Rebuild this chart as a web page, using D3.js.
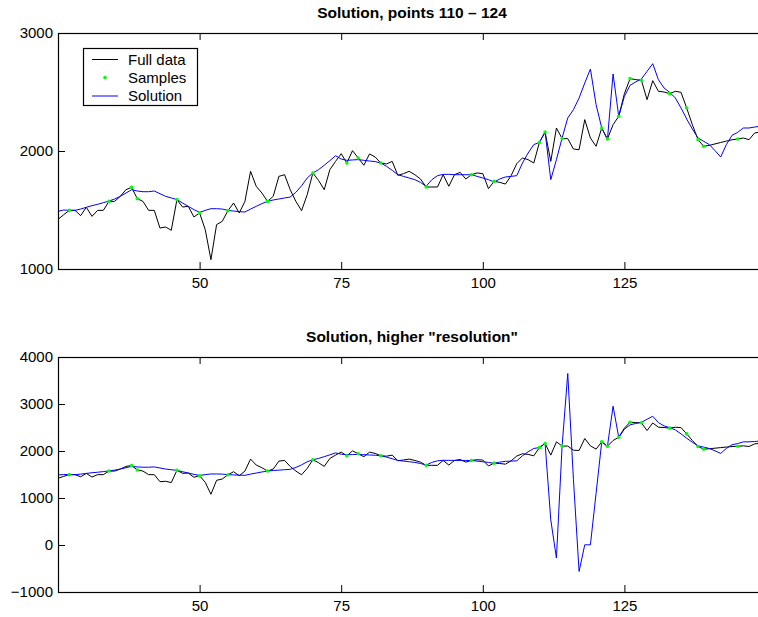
<!DOCTYPE html>
<html>
<head>
<meta charset="utf-8">
<script src="https://cdn.jsdelivr.net/npm/d3@7"></script>
<style>
  html, body { margin: 0; padding: 0; background: #fff; }
  svg { display: block; }
  text { font-family: "Liberation Sans", Arial, Helvetica, sans-serif; fill: #000; }
</style>
</head>
<body>
<svg id="chart" width="758" height="617"></svg>
<script>
// Signal index of the first value in each series
const firstIndex = 25;

// Full measured signal, one value per index 25..150
const fullData = [
  1420, 1460, 1497, 1497, 1452, 1523, 1446, 1497, 1497, 1573,
  1573, 1616, 1672, 1692, 1596, 1573, 1497, 1497, 1347, 1356,
  1328, 1588, 1525, 1531, 1441, 1475, 1333, 1079, 1376, 1404,
  1494, 1559, 1475, 1573, 1828, 1701, 1644, 1573, 1616, 1785,
  1799, 1672, 1573, 1494, 1630, 1814, 1751, 1672, 1842, 1912,
  1977, 1898, 2003, 1941, 1879, 1975, 1949, 1898, 1890, 1912,
  1794, 1808, 1828, 1799, 1763, 1695, 1695, 1695, 1799, 1701,
  1799, 1819, 1763, 1799, 1814, 1808, 1681, 1743, 1734, 1720,
  1791, 1893, 1941, 1927, 1898, 2073, 2161, 1912, 2195, 2105,
  2105, 2017, 2011, 2266, 2110, 2040, 2195, 2102, 2223, 2294,
  2486, 2613, 2605, 2599, 2435, 2596, 2506, 2500, 2486, 2506,
  2497, 2364, 2223, 2096, 2040, 2048, 2060, 2072, 2084, 2095,
  2102, 2110, 2096, 2153, 2160, 2170
];

// Indices at which the signal was sampled
const sampleIndex = [
  27, 34, 38, 39, 46, 50, 55, 62, 70, 76, 78, 82, 90, 98,
  102, 110, 111, 114, 121, 122, 124, 126, 128, 133, 136, 138, 139, 145
];

// Reconstructed solution, one value per index 25..150
const solution = [
  1489, 1500, 1497, 1497, 1508, 1523, 1537, 1548, 1562, 1576,
  1593, 1616, 1644, 1672, 1661, 1655, 1655, 1661, 1638, 1616,
  1602, 1588, 1559, 1531, 1503, 1480, 1497, 1511, 1511, 1508,
  1497, 1491, 1486, 1483, 1508, 1531, 1554, 1573, 1585, 1593,
  1602, 1610, 1650, 1705, 1771, 1814, 1842, 1879, 1918, 1960,
  1932, 1921, 1924, 1927, 1921, 1915, 1910, 1898, 1870, 1836,
  1799, 1785, 1771, 1757, 1734, 1701, 1757, 1791, 1802, 1802,
  1799, 1799, 1799, 1799, 1785, 1771, 1757, 1737, 1763, 1780,
  1785, 1791, 1898, 1983, 2054, 2073, 2161, 1757, 1927, 2110,
  2280, 2350, 2449, 2576, 2695, 2393, 2195, 2096, 2653, 2294,
  2463, 2557, 2585, 2610, 2675, 2740, 2605, 2534, 2497, 2449,
  2364, 2271, 2186, 2110, 2082, 2054, 2003, 1949, 2054, 2133,
  2158, 2195, 2195, 2203, 2210, 2215
];

// Higher-resolution solution differs from the one above on indices 112..124
const hiResIndex  = [112, 113, 114, 115, 116, 117, 118, 119, 120, 121, 122, 123, 124];
const hiResValues = [535, -278, 2105, 3648, 1400, -562, 4, 4, 1100, 2197, 2096, 2954, 2290];

// Axis settings
const xDomain = [25, 150];
const xTicks = [50, 75, 100, 125];
const topYDomain = [1000, 3000];
const topYTicks = [1000, 2000, 3000];
const bottomYDomain = [-1000, 4000];
const bottomYTicks = [-1000, 0, 1000, 2000, 3000, 4000];

const titles = ["Solution, points 110 \u2013 124", "Solution, higher \"resolution\""];
const legendLabels = ["Full data", "Samples", "Solution"];

// ---------------------------------------------------------------
const toPoints = vals => vals.map((v, i) => ({ x: firstIndex + i, y: v }));
const fullPts = toPoints(fullData);
const samplePts = sampleIndex.map(k => ({ x: k, y: fullData[k - firstIndex] }));
const solutionPts = toPoints(solution);
const hiResPts = solutionPts.map(p => {
  const j = hiResIndex.indexOf(p.x);
  return j >= 0 ? { x: p.x, y: hiResValues[j] } : p;
});

const svg = d3.select("#chart");
const FONT = 15;
const left = 58, right = 766;
const x = d3.scaleLinear().domain(xDomain).range([left, right]);

function panel(id, top, bottom, yDomain, yTicks, title, series) {
  const y = d3.scaleLinear().domain(yDomain).range([bottom, top]);
  const g = svg.append("g");

  g.append("clipPath").attr("id", id)
    .append("rect").attr("x", left).attr("y", top)
    .attr("width", right - left).attr("height", bottom - top);

  const plot = g.append("g").attr("clip-path", `url(#${id})`);
  const line = d3.line().x(d => x(d.x)).y(d => y(d.y));

  plot.append("path").datum(series.full)
    .attr("d", line).attr("fill", "none")
    .attr("stroke", "#000").attr("stroke-width", 1);
  plot.append("path").datum(series.solution)
    .attr("d", line).attr("fill", "none")
    .attr("stroke", "#0000ff").attr("stroke-width", 1);
  plot.selectAll("circle").data(series.samples).join("circle")
    .attr("cx", d => x(d.x)).attr("cy", d => y(d.y))
    .attr("r", 1.8).attr("fill", "#00ff00");

  // Axes with inward ticks
  const yAxis = d3.axisLeft(y).tickValues(yTicks).tickSize(-7).tickPadding(5)
    .tickFormat(d => d < 0 ? "\u2212" + Math.abs(d) : String(d));
  const ya = g.append("g").attr("transform", `translate(${left},0)`).call(yAxis);
  const xAxis = d3.axisBottom(x).tickValues(xTicks).tickSize(-7).tickPadding(8)
    .tickFormat(d3.format("d"));
  const xa = g.append("g").attr("transform", `translate(0,${bottom})`).call(xAxis);
  const xTop = d3.axisTop(x).tickValues(xTicks).tickSize(-7).tickFormat("");
  const xt = g.append("g").attr("transform", `translate(0,${top})`).call(xTop);

  [ya, xa, xt].forEach(a => {
    a.select(".domain").remove();
    a.selectAll("line").attr("stroke", "#000").attr("stroke-width", 1);
    a.selectAll("text").attr("font-size", FONT)
      .attr("font-family", "'Liberation Sans', Arial, sans-serif").attr("fill", "#000");
  });

  // Axes box
  g.append("rect")
    .attr("x", left + 0.5).attr("y", Math.round(top) + 0.5)
    .attr("width", right - left).attr("height", Math.round(bottom) - Math.round(top))
    .attr("fill", "none").attr("stroke", "#000").attr("stroke-width", 1.2);

  g.append("text")
    .attr("x", (left + right) / 2).attr("y", top - 15)
    .attr("text-anchor", "middle").attr("font-weight", "bold")
    .attr("font-size", 15.5).text(title);

  return { g, y };
}

panel("clipTop", 33, 269, topYDomain, topYTicks, titles[0],
  { full: fullPts, solution: solutionPts, samples: samplePts });
panel("clipBottom", 357, 592, bottomYDomain, bottomYTicks, titles[1],
  { full: fullPts, solution: hiResPts, samples: samplePts });

// Legend
const lg = svg.append("g");
lg.append("rect").attr("x", 83.5).attr("y", 48.5).attr("width", 114).attr("height", 57)
  .attr("fill", "#fff").attr("stroke", "#000").attr("stroke-width", 1.2);
const rows = [59.5, 77.5, 96];
lg.append("line").attr("x1", 92).attr("x2", 118).attr("y1", rows[0]).attr("y2", rows[0])
  .attr("stroke", "#000").attr("stroke-width", 1);
lg.append("circle").attr("cx", 105).attr("cy", rows[1]).attr("r", 1.8).attr("fill", "#00ff00");
lg.append("line").attr("x1", 92).attr("x2", 118).attr("y1", rows[2]).attr("y2", rows[2])
  .attr("stroke", "#0000ff").attr("stroke-width", 1);
lg.selectAll("text").data(legendLabels).join("text")
  .attr("x", 128).attr("y", (d, i) => rows[i])
  .attr("dy", "0.35em").attr("font-size", FONT).text(d => d);
</script>
</body>
</html>
